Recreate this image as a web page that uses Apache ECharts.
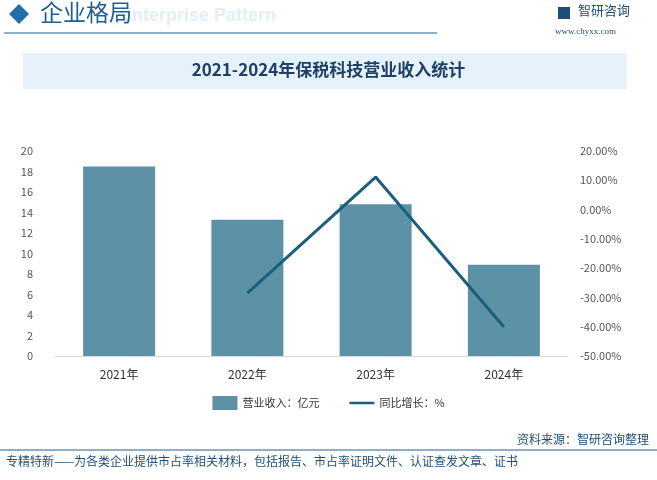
<!DOCTYPE html>
<html>
<head>
<meta charset="utf-8">
<script src="https://cdn.jsdelivr.net/npm/echarts@6/dist/echarts.min.js"></script>
<style>
html,body{margin:0;padding:0;background:#fff;}
#chart{width:657px;height:480px;}
</style>
</head>
<body>
<div id="chart"></div>
<script>
var years = ['2021年', '2022年', '2023年', '2024年'];
var revenue = [18.5, 13.3, 14.8, 8.9];
var growth = [null, -28.5, 11.1, -40.1];

var cjk = '"Noto Sans CJK SC", sans-serif';
var myChart = echarts.init(document.getElementById('chart'));
var option = {
    backgroundColor: '#fff',
    textStyle: {fontFamily: cjk},
    graphic: [
        {type: 'text', left: 120, top: 7, style: {text: 'Enterprise Pattern', fill: '#e3eef7', font: 'bold 18px Arial'}},
        {type: 'polygon', shape: {points: [[9, 14], [19, 4], [29, 14], [19, 24]]}, style: {fill: '#1f6fa8'}},
        {type: 'text', left: 40, top: 1, style: {text: '企业格局', fill: '#1f5f8f', font: '23px ' + cjk}},
        {type: 'line', shape: {x1: 4, y1: 33, x2: 437, y2: 33}, style: {stroke: '#1f5f8f', lineWidth: 1}},
        {type: 'rect', shape: {x: 558, y: 7, width: 12, height: 12}, style: {fill: '#1f4e7a'}},
        {type: 'text', left: 578, top: 4, style: {text: '智研咨询', fill: '#1f4e7a', font: '13px ' + cjk}},
        {type: 'text', left: 555, top: 27, style: {text: 'www.chyxx.com', fill: '#1f4e7a', font: '9px serif'}},
        {type: 'rect', shape: {x: 23, y: 53, width: 604, height: 36}, style: {fill: '#e6f2fa'}},
        {type: 'text', left: 'center', top: 61, style: {text: '2021-2024年保税科技营业收入统计', fill: '#1f3f66', font: 'bold 17px ' + cjk}},
        {type: 'line', shape: {x1: 0, y1: 450, x2: 657, y2: 450}, style: {stroke: '#1f5f8f', lineWidth: 1}},
        {type: 'text', right: 8, top: 433, style: {text: '资料来源：智研咨询整理', fill: '#1f4e7a', font: '12px ' + cjk}},
        {type: 'text', left: 6, top: 455, style: {text: '专精特新——为各类企业提供市占率相关材料，包括报告、市占率证明文件、认证查发文章、证书', fill: '#1f4e7a', font: '12px ' + cjk}}
    ],
    legend: {
        bottom: 65,
        left: 'center',
        itemGap: 30,
        textStyle: {color: '#333', fontSize: 11},
        data: [
            {name: '营业收入：亿元', icon: 'rect'},
            {name: '同比增长：%', icon: 'path://M0,0 L30,0 L30,3 L0,3 Z'}
        ]
    },
    grid: {left: 55, right: 89, top: 151, bottom: 124},
    xAxis: {
        type: 'category',
        data: years,
        axisTick: {show: false},
        axisLine: {lineStyle: {color: '#d9d9d9'}},
        axisLabel: {color: '#333', fontSize: 12, margin: 12}
    },
    yAxis: [
        {
            type: 'value', min: 0, max: 20, interval: 2,
            splitLine: {show: false},
            axisLabel: {color: '#555', fontSize: 11, margin: 22}
        },
        {
            type: 'value', min: -50, max: 20, interval: 10,
            splitLine: {show: false},
            axisLabel: {color: '#555', fontSize: 11, margin: 12, formatter: function (v) { return v.toFixed(2) + '%'; }}
        }
    ],
    series: [
        {
            name: '营业收入：亿元', type: 'bar', data: revenue, barWidth: 72,
            itemStyle: {color: '#5d91a6'}
        },
        {
            name: '同比增长：%', type: 'line', yAxisIndex: 1, data: growth,
            symbol: 'none', lineStyle: {color: '#1a5f7d', width: 3},
            itemStyle: {color: '#1a5f7d'}
        }
    ]
};
myChart.setOption(option);
</script>
</body>
</html>
